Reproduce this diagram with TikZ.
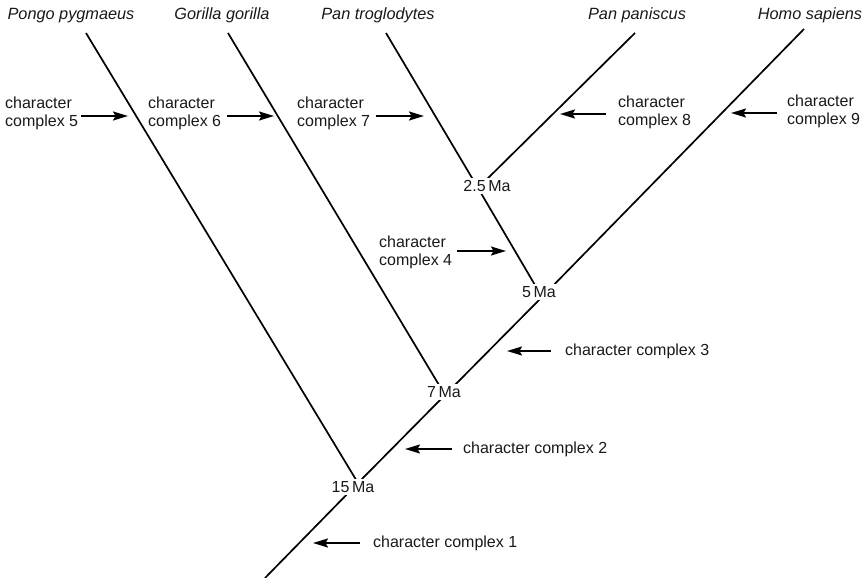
\documentclass[tikz,border=0pt]{standalone}
\usepackage{fontspec}
\setmainfont{Liberation Sans}
\usetikzlibrary{arrows.meta}
\begin{document}
\begin{tikzpicture}[x=1pt,y=-1pt,
  branch/.style={line width=1.7pt, black},
  taxon/.style={font=\fontsize{16.3}{19}\selectfont\itshape, anchor=base, inner sep=0pt, text=black!90},
  trait/.style={font=\fontsize{16}{18}\selectfont, align=left, anchor=west, inner sep=2pt, text=black!90},
  age/.style={font=\fontsize{16}{18}\selectfont, fill=white, inner sep=2.5pt, text=black!90},
  pointer/.style={line width=1.8pt, black, -{Stealth[length=15pt,width=9pt,inset=2.5pt]}}]
\useasboundingbox (0,0) rectangle (863,578);

% branch tips, root and split points
\coordinate (root) at (265,578);
\coordinate (homoTop) at (804,29);
\coordinate (pongoTop) at (86,33);
\coordinate (gorillaTop) at (228,33);
\coordinate (trogTop) at (386,33);
\coordinate (paniscusTop) at (635,33);
\coordinate (j15) at (358,483);
\coordinate (j7) at (445,395);
\coordinate (j5) at (542,297);
\coordinate (j25) at (478,188);

% the tree
\draw[branch] (root) -- (j15) -- (j7) -- (j5) -- (homoTop);
\draw[branch] (pongoTop) -- (j15);
\draw[branch] (gorillaTop) -- (j7);
\draw[branch] (trogTop) -- (j25) -- (j5);
\draw[branch] (paniscusTop) -- (j25);

% divergence ages
\node[age] (m15) at (353,487) {15\,Ma};
\node[age] (m7) at (444,392) {7\,Ma};
\node[age] (m5) at (539,292) {5\,Ma};
\node[age] (m25) at (487,186) {2.5\,Ma};

% taxa
\node[taxon] (pongo) at (71,20) {Pongo pygmaeus};
\node[taxon] (gorilla) at (222,20) {Gorilla gorilla};
\node[taxon] (trog) at (378,20) {Pan troglodytes};
\node[taxon] (paniscus) at (637,20) {Pan paniscus};
\node[taxon] (homo) at (810,20) {Homo sapiens};

% character complexes
\node[trait] (cc5) at (3,113) {character\\complex 5};
\node[trait] (cc6) at (146,113) {character\\complex 6};
\node[trait] (cc7) at (295,113) {character\\complex 7};
\node[trait] (cc8) at (616,112) {character\\complex 8};
\node[trait] (cc9) at (785,111) {character\\complex 9};
\node[trait] (cc4) at (377,252) {character\\complex 4};
\node[trait] (cc3) at (563,351) {character complex 3};
\node[trait] (cc2) at (461,449) {character complex 2};
\node[trait] (cc1) at (371,543) {character complex 1};

% arrow tips
\coordinate (t5) at (128,116);
\coordinate (t6) at (274,116);
\coordinate (t7) at (424,116);
\coordinate (t8) at (560,114);
\coordinate (t9) at (731,113);
\coordinate (t4) at (506,251);
\coordinate (t3) at (507,351);
\coordinate (t2) at (405,449);
\coordinate (t1) at (313,543);

\draw[pointer] ([xshift=1pt]cc5.east |- t5) -- (t5);
\draw[pointer] ([xshift=4pt]cc6.east |- t6) -- (t6);
\draw[pointer] ([xshift=4pt]cc7.east |- t7) -- (t7);
\draw[pointer] ([xshift=3pt]cc4.east |- t4) -- (t4);
\draw[pointer] ([xshift=-10pt]cc8.west |- t8) -- (t8);
\draw[pointer] ([xshift=-8pt]cc9.west |- t9) -- (t9);
\draw[pointer] ([xshift=-12pt]cc3.west |- t3) -- (t3);
\draw[pointer] ([xshift=-9pt]cc2.west |- t2) -- (t2);
\draw[pointer] ([xshift=-11pt]cc1.west |- t1) -- (t1);
\end{tikzpicture}
\end{document}
